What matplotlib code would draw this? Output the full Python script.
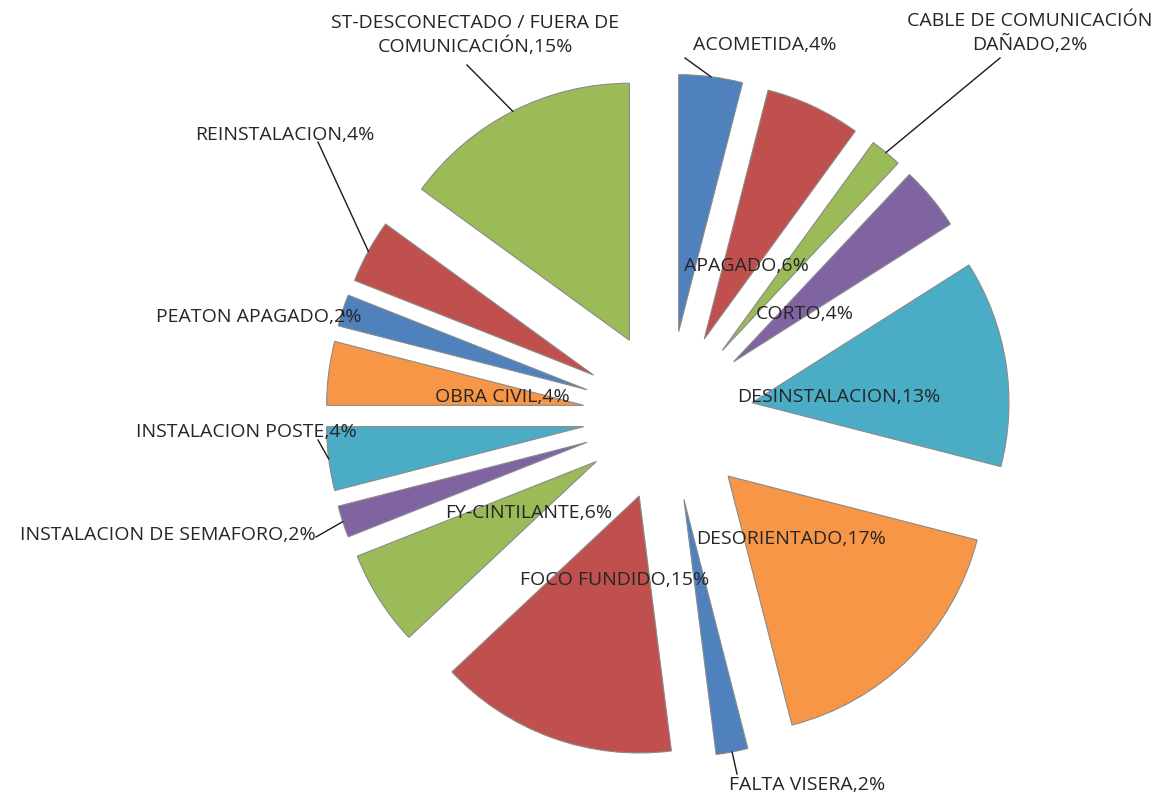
import matplotlib
matplotlib.use("Agg")
import matplotlib.pyplot as plt
import numpy as np

# slice data, clockwise from 12 o'clock
categories = [
    "ACOMETIDA", "APAGADO", "CABLE DE COMUNICACIÓN\nDAÑADO", "CORTO",
    "DESINSTALACION", "DESORIENTADO", "FALTA VISERA", "FOCO FUNDIDO",
    "FY-CINTILANTE", "INSTALACION DE SEMAFORO", "INSTALACION POSTE",
    "OBRA CIVIL", "PEATON APAGADO", "REINSTALACION",
    "ST-DESCONECTADO / FUERA DE\nCOMUNICACIÓN",
]
percent = [4, 6, 2, 4, 13, 17, 2, 15, 6, 2, 4, 4, 2, 4, 15]

palette = ["#4F81BD", "#C0504D", "#9BBB59", "#8064A2", "#4BACC6", "#F79646"]
colors = [palette[i % len(palette)] for i in range(len(percent))]

# layout (pixels in the 1163x802 picture, y from top)
W, H = 1163, 802
CX, CY, S = 668, 416, 257          # pie centre and radius in px
label_pos = [
    (765, 45), (746, 266), (1030, 33), (805, 314), (839, 397),
    (791, 539), (807, 785), (615, 580), (529, 513), (168, 535),
    (246, 432), (502, 397), (259, 317), (285, 135), (475, 35),
]
# where a leader line leaves the label (None = no leader)
leader_from = [
    (685, 58), None, (1000, 58), None, None,
    None, (737, 774), None, None, (316, 537),
    (318, 440), None, (344, 316), (318, 142), (467, 65),
]


def px(x, y):
    return (x - CX) / S, (CY - y) / S


fig = plt.figure(figsize=(W / 100, H / 100), dpi=100)
ax = fig.add_axes([0, 0, 1, 1])

wedges, _ = ax.pie(percent, colors=colors, startangle=90, counterclock=False,
                   radius=1, explode=[85 / S] * len(percent),
                   wedgeprops=dict(edgecolor="#8a8a8a", linewidth=0.8))

for i, w in enumerate(wedges):
    text = f"{categories[i]},{percent[i]}%"
    tx, ty = px(*label_pos[i])
    ax.text(tx, ty, text, ha="center", va="center", fontsize=14,
            family="Open Sans", color="#262626", linespacing=1.3)
    if leader_from[i] is not None:
        mid = np.deg2rad((w.theta1 + w.theta2) / 2)
        ex = w.center[0] + w.r * np.cos(mid)
        ey = w.center[1] + w.r * np.sin(mid)
        sx, sy = px(*leader_from[i])
        ax.plot([sx, ex], [sy, ey], color="#1a1a1a", lw=1)

ax.set_aspect("auto")
ax.set_xlim(-CX / S, (W - CX) / S)
ax.set_ylim(-(H - CY) / S, CY / S)
ax.axis("off")

fig.savefig("out.png", dpi=100)
